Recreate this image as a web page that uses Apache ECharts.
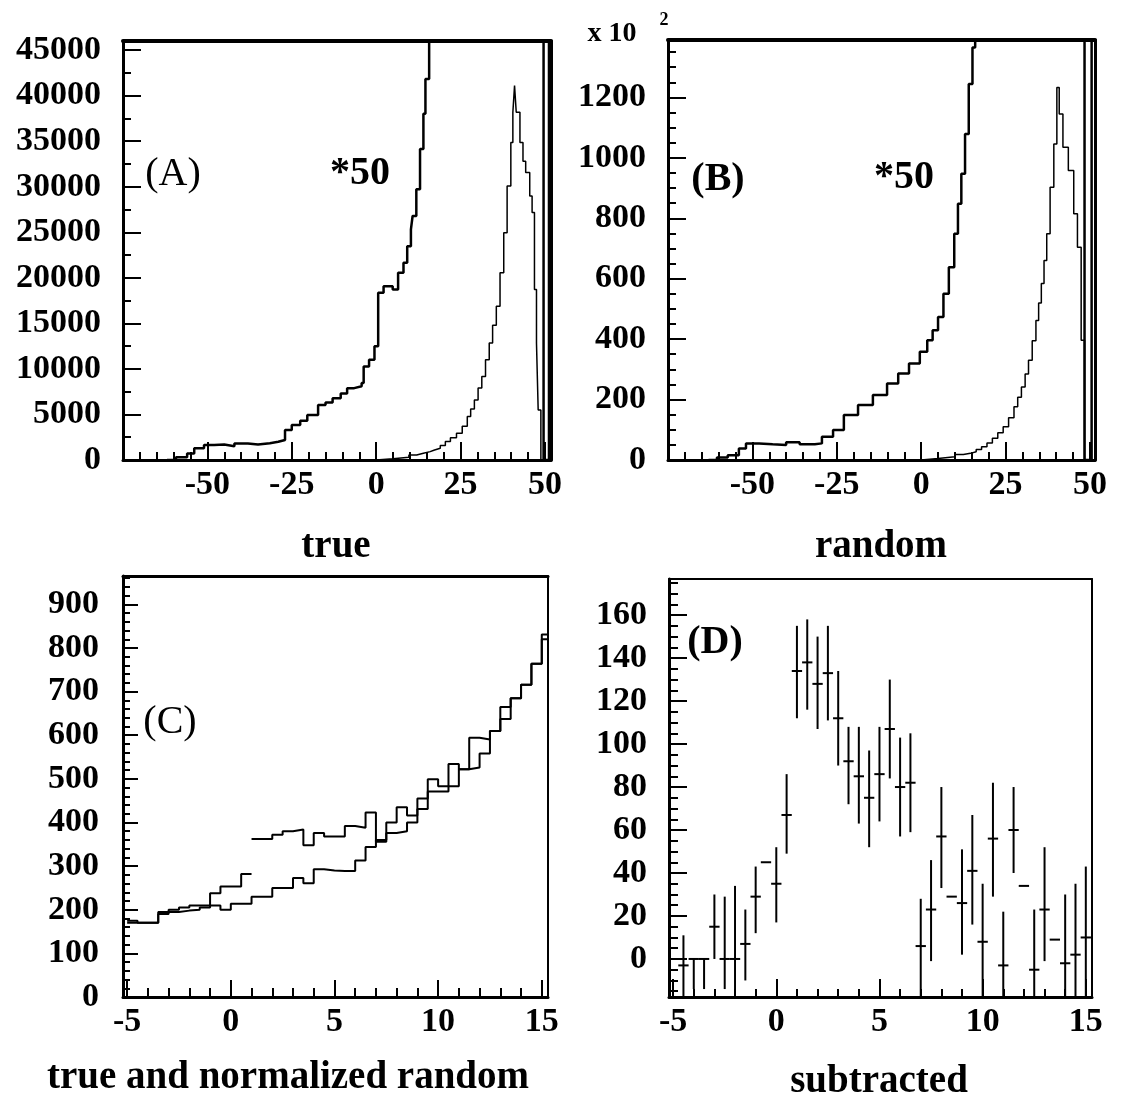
<!DOCTYPE html>
<html>
<head>
<meta charset="utf-8">
<script src="https://cdn.jsdelivr.net/npm/echarts@6/dist/echarts.min.js"></script>
<style>
  html, body { margin: 0; padding: 0; background: #fff; }
  #main { width: 1124px; height: 1103px; }
</style>
</head>
<body>
<div id="main"></div>
<script>
// (A) true spectrum: raw counts and the same scaled *50 (clipped at the top)
const aScaledEdges = [-62, -59.3, -56, -53.9, -51, -48, -45, -42, -38, -35, -31.5, -29, -27, -25, -22.5, -20.4, -17.2, -15, -12.9, -10.5,
  -8.6, -6.5, -4.3, -3.7, -2.1, -0.5, 0.6, 2.2, 4.9, 6.5, 8.1, 9.2, 10.3, 10.8, 11.9, 13, 14, 14.6, 15.7, 16.5, 48.6, 49.6, 51.2, 51.8];
const aScaledCounts = [0, 300, 700, 1280, 1650, 1700, 1500, 1800, 1700, 1850, 2000, 2200, 3300, 3850, 4300, 4950, 6050, 6300, 6790, 7300,
  7890, 8100, 8440, 10270, 11010, 12480, 18350, 19080, 18720, 20550, 21650, 23480, 25320, 26790, 29730, 34130, 38000, 41840, 47000, null, 47000, 0, 47000];
const aRawEdges = [-62, 0, 5, 9.7, 12, 14, 16, 17.3, 19, 20.5, 22, 23.8, 25.5, 27, 28, 29.1, 30.2, 31.3, 32.4, 33.5,
  34.5, 35.6, 36.7, 37.8, 38.8, 39.9, 40.5, 41, 41.5, 42.6, 43.5, 44.3, 45.5, 46.2, 46.9, 47.5, 48, 48.8, 51.8];
const aRawCounts = [0, 150, 300, 550, 750, 920, 1100, 1280, 1600, 2020, 2450, 2940, 3700, 4770, 5600, 6600, 7900, 9170, 11000, 12850,
  14800, 16880, 20550, 24960, 30090, 34870, 38170, 41100, 38170, 34870, 32800, 31570, 28990, 27160, 18720, 12850, 5500, 0];

// (B) random spectrum, in units of 10^2
const bScaledEdges = [-63, -60.5, -57.3, -54, -51.9, -48, -44, -40, -36, -31.5, -29.4, -26.1, -22.9, -18.7, -14.3, -10.1, -6.8, -3.6, -0.4, 1.8,
  3.4, 5, 6.6, 8.2, 9.8, 10.9, 11.9, 13, 14.1, 15.2, 16, 17, 47.4, 48.4, 50.5, 51.5];
const bScaledCounts = [0, 8, 16, 38, 55, 52, 50, 59, 52, 55, 77, 99, 149, 182, 215, 253, 286, 319, 358, 396,
  429, 473, 550, 638, 749, 848, 947, 1079, 1244, 1365, 1450, null, 1450, 0, 1450];
const bRawEdges = [-62, 0, 5, 10, 12.5, 14.6, 16.3, 17.9, 19.5, 21.1, 22.7, 24.3, 25.9, 27.5, 28.6, 29.7, 30.8, 31.8, 32.9, 34,
  34.8, 35.6, 36.4, 37.2, 38.2, 39.3, 40.2, 40.9, 42, 43.6, 45.2, 46.3, 47.4, 48.4, 51.5];
const bRawCounts = [0, 5, 11, 18, 22, 27, 35, 44, 56, 72, 90, 110, 140, 176, 208, 242, 285, 330, 395, 462,
  520, 584, 660, 749, 903, 1046, 1233, 1145, 1035, 958, 815, 704, 396, 0];

// (C) 0.5 wide bins from -5; the "true" one has a gap at x = 1
const cBinWidth = 0.5;
const cTrueLow = [175, 170, 170, 195, 200, 205, 210, 210, 238, 253, 253, 282];              // bins -5 .. 0.5
const cTrueHigh = [362, 362, 372, 380, 384, 348, 376, 368, 368, 392, 388, 423, 356, 400, 435,
  416, 455, 499, 483, 534, 522, 594, 590, 610, 665, 685, 716, 764, 831];                     // bins 1 .. 15
const cRandom = [170, 170, 170, 190, 195, 198, 200, 205, 210, 200, 214, 214, 230, 230, 250, 250, 273, 261, 293, 290,
  289, 289, 313, 344, 360, 376, 380, 400, 431, 471, 471, 483, 522, 526, 558, 610, 637, 685, 716, 764, 820]; // bins -5 .. 15

// (D) subtracted, bin centres with error bar ends
const dX = [-4.5, -4, -3.5, -3, -2.5, -2, -1.5, -1, -0.5, 0, 0.5, 1, 1.5, 2, 2.5, 3, 3.5, 4, 4.5, 5,
  5.5, 6, 6.5, 7, 7.5, 8, 8.5, 9, 9.5, 10, 10.5, 11, 11.5, 12, 12.5, 13, 13.5, 14, 14.5, 15];
const dVal = [-3, 0, 0, 15, 0, 0, 7, 29, 45, 35, 67, 134, 138, 128, 133, 112, 92, 85, 75, 86,
  107, 80, 82, 6, 23, 57, 29, 26, 41, 8, 56, -3, 60, 34, -5, 23, 9, -2, 2, 10];
const dLo = [-20, -14, -14, 0, -14, -14, -10, 12, 45, 17, 49, 112, 116, 107, 111, 90, 72, 63, 52, 64,
  84, 57, 59, -20, -1, 33, 29, 2, 16, -20, 29, -20, 40, 34, -20, -1, 9, -20, -20, -20];
const dHi = [11, 0, 0, 30, 29, 34, 23, 43, 45, 52, 86, 155, 158, 150, 155, 134, 108, 108, 97, 108,
  130, 103, 105, 28, 46, 80, 29, 51, 67, 35, 82, 22, 80, 34, 23, 52, 9, 30, 35, 43];

// tick labels
const abXLabels = [-50, -25, 0, 25, 50];
const aYLabels = [0, 5000, 10000, 15000, 20000, 25000, 30000, 35000, 40000, 45000];
const bYLabels = [0, 200, 400, 600, 800, 1000, 1200];
const cdXLabels = [-5, 0, 5, 10, 15];
const cYLabels = [0, 100, 200, 300, 400, 500, 600, 700, 800, 900];
const dYLabels = [0, 20, 40, 60, 80, 100, 120, 140, 160];

function histData(edges, counts) {
  const out = [];
  for (let i = 0; i < counts.length; i++) {
    if (counts[i] === null) { out.push([edges[i], null]); continue; }
    out.push([edges[i], counts[i]]);
    if (i + 1 === counts.length || counts[i + 1] === null) out.push([edges[i + 1], counts[i]]);
  }
  return out;
}
function uniformEdges(start, n) {
  return Array.from({ length: n + 1 }, (_, i) => start + i * cBinWidth);
}
function steps(from, to, step) {
  const out = [];
  for (let v = Math.ceil(from / step - 1e-9) * step; v <= to + 1e-9; v += step) out.push(+v.toFixed(6));
  return out;
}

const LABEL = { fontFamily: 'Liberation Serif', fontWeight: 'bold', fontSize: 34, color: '#000', formatter: (v) => String(v) };
const BLACK = '#000';

const grids = [], xAxes = [], yAxes = [];
function addPanel(p) {
  const g = grids.length;
  grids.push(Object.assign({ show: false, containLabel: false }, p.grid));
  const common = { gridIndex: g, type: 'value', splitLine: { show: false } };
  const xi = xAxes.length, yi = yAxes.length;
  const xr = { min: p.x[0], max: p.x[1] }, yr = { min: p.y[0], max: p.y[1] };
  xAxes.push(Object.assign({}, common, xr, {
    position: 'bottom',
    axisLine: { show: true, onZero: false, lineStyle: { color: BLACK, width: 3 } },
    axisTick: { show: true, inside: true, length: p.xTick[0], customValues: p.xLabels, lineStyle: { color: BLACK, width: 2 } },
    axisLabel: Object.assign({ show: true, customValues: p.xLabels, margin: 8 }, LABEL)
  }));
  xAxes.push(Object.assign({}, common, xr, {
    position: 'bottom',
    axisLine: { show: false, onZero: false },
    axisTick: { show: true, inside: true, length: p.xTick[1], customValues: steps(p.x[0], p.x[1], p.xMinor), lineStyle: { color: BLACK, width: 2 } },
    axisLabel: { show: false }
  }));
  xAxes.push(Object.assign({}, common, xr, {
    position: 'top',
    axisLine: { show: true, onZero: false, lineStyle: { color: BLACK, width: p.topWidth } },
    axisTick: { show: false }, axisLabel: { show: false }
  }));
  yAxes.push(Object.assign({}, common, yr, {
    position: 'left',
    axisLine: { show: true, onZero: false, lineStyle: { color: BLACK, width: 3 } },
    axisTick: { show: true, inside: true, length: p.yTick[0], customValues: p.yLabels, lineStyle: { color: BLACK, width: 2 } },
    axisLabel: Object.assign({ show: true, customValues: p.yLabels, margin: p.yMargin }, LABEL)
  }));
  yAxes.push(Object.assign({}, common, yr, {
    position: 'left',
    axisLine: { show: false, onZero: false },
    axisTick: { show: true, inside: true, length: p.yTick[1], customValues: steps(p.y[0], p.y[1], p.yMinor), lineStyle: { color: BLACK, width: 2 } },
    axisLabel: { show: false }
  }));
  yAxes.push(Object.assign({}, common, yr, {
    position: 'right',
    axisLine: { show: true, onZero: false, lineStyle: { color: BLACK, width: p.rightWidth } },
    axisTick: { show: false }, axisLabel: { show: false }
  }));
  return { xAxisIndex: xi, yAxisIndex: yi };
}

const pA = addPanel({ grid: { left: 123, top: 41, width: 428, height: 419 }, x: [-75, 51.8], y: [0, 46000],
  xLabels: abXLabels, xMinor: 5, xTick: [18, 8], yLabels: aYLabels, yMinor: 2500, yTick: [18, 8], yMargin: 22, topWidth: 4, rightWidth: 3 });
const pB = addPanel({ grid: { left: 668, top: 40, width: 427, height: 420 }, x: [-75, 51.5], y: [0, 1390],
  xLabels: abXLabels, xMinor: 5, xTick: [18, 8], yLabels: bYLabels, yMinor: 50, yTick: [18, 8], yMargin: 22, topWidth: 4, rightWidth: 3 });
const pC = addPanel({ grid: { left: 123, top: 576, width: 425, height: 421 }, x: [-5.2, 15.3], y: [0, 965],
  xLabels: cdXLabels, xMinor: 1, xTick: [17, 9], yLabels: cYLabels, yMinor: 20, yTick: [15, 7], yMargin: 24, topWidth: 3, rightWidth: 2 });
const pD = addPanel({ grid: { left: 669, top: 579, width: 423, height: 418 }, x: [-5.2, 15.3], y: [-17.7, 176.8],
  xLabels: cdXLabels, xMinor: 1, xTick: [18, 8], yLabels: dYLabels, yMinor: 5, yTick: [18, 9], yMargin: 22, topWidth: 2, rightWidth: 2 });

function histSeries(panel, data, width) {
  return Object.assign({
    type: 'line', step: 'end', data: data, symbol: 'none', silent: true, clip: true,
    connectNulls: false, lineStyle: { color: BLACK, width: width }
  }, panel);
}

const cTrueEdges = uniformEdges(-5, cTrueLow.length).concat(uniformEdges(1, cTrueHigh.length));
const cTrueCounts = cTrueLow.concat([null], cTrueHigh);

const series = [
  histSeries(pA, histData(aScaledEdges, aScaledCounts), 2.5),
  histSeries(pA, histData(aRawEdges, aRawCounts), 1.5),
  histSeries(pB, histData(bScaledEdges, bScaledCounts), 2.5),
  histSeries(pB, histData(bRawEdges, bRawCounts), 1.5),
  histSeries(pC, histData(uniformEdges(-5, cRandom.length), cRandom), 2),
  histSeries(pC, histData(cTrueEdges, cTrueCounts), 2),
  Object.assign({
    type: 'custom', clip: true, silent: true,
    data: dX.map((x, i) => [x, dVal[i], dLo[i], dHi[i]]),
    encode: { x: 0, y: 1 },
    renderItem: function (params, api) {
      const x = api.value(0), v = api.value(1);
      const c = api.coord([x, v]);
      const l = api.coord([x - 0.25, v]);
      const r = api.coord([x + 0.25, v]);
      const top = api.coord([x, api.value(3)]);
      const bot = api.coord([x, api.value(2)]);
      const st = { stroke: BLACK, lineWidth: 2 };
      return { type: 'group', children: [
        { type: 'line', shape: { x1: l[0], y1: c[1], x2: r[0], y2: c[1] }, style: st },
        { type: 'line', shape: { x1: c[0], y1: top[1], x2: c[0], y2: bot[1] }, style: st }
      ] };
    }
  }, pD)
];

function txt(text, x, y, font) {
  return { type: 'text', x: x, y: y, z: 100, silent: true,
    style: { text: text, font: font, fill: BLACK, textAlign: 'center', textVerticalAlign: 'middle', align: 'center', verticalAlign: 'middle' } };
}
const serif = '"Liberation Serif"';

const chart = echarts.init(document.getElementById('main'));
chart.setOption({
  animation: false,
  backgroundColor: '#fff',
  grid: grids,
  xAxis: xAxes,
  yAxis: yAxes,
  series: series,
  graphic: [
    txt('(A)', 173, 174, '40px ' + serif),
    txt('*50', 360, 174, 'bold 40px ' + serif),
    txt('(B)', 718, 180, 'bold 40px ' + serif),
    txt('*50', 904, 178, 'bold 40px ' + serif),
    txt('(C)', 170, 722, '40px ' + serif),
    txt('(D)', 715, 643, 'bold 40px ' + serif),
    txt('x 10', 612, 34, 'bold 28px ' + serif),
    txt('2', 664, 20, 'bold 18px ' + serif),
    txt('true', 336, 547, 'bold 39px ' + serif),
    txt('random', 881, 547, 'bold 39px ' + serif),
    txt('true and normalized random', 288, 1078, 'bold 39px ' + serif),
    txt('subtracted', 879, 1082, 'bold 39px ' + serif)
  ]
});
</script>
</body>
</html>
